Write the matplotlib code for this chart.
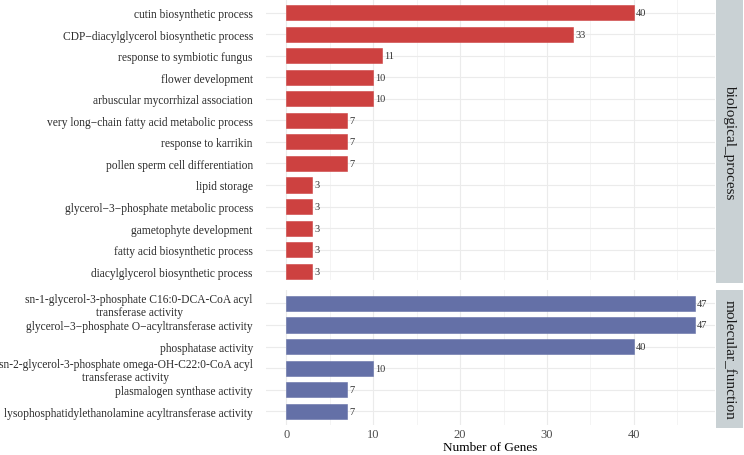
import matplotlib.pyplot as plt

plt.rcParams['font.family'] = ['Liberation Serif', 'DejaVu Serif']

bp_terms = [
    "cutin biosynthetic process",
    "CDP\u2212diacylglycerol biosynthetic process",
    "response to symbiotic fungus",
    "flower development",
    "arbuscular mycorrhizal association",
    "very long\u2212chain fatty acid metabolic process",
    "response to karrikin",
    "pollen sperm cell differentiation",
    "lipid storage",
    "glycerol\u22123\u2212phosphate metabolic process",
    "gametophyte development",
    "fatty acid biosynthetic process",
    "diacylglycerol biosynthetic process",
]
bp_counts = [40, 33, 11, 10, 10, 7, 7, 7, 3, 3, 3, 3, 3]

mf_terms = [
    "sn-1-glycerol-3-phosphate C16:0-DCA-CoA acyl\ntransferase activity",
    "glycerol\u22123\u2212phosphate O\u2212acyltransferase activity",
    "phosphatase activity",
    "sn-2-glycerol-3-phosphate omega-OH-C22:0-CoA acyl\ntransferase activity",
    "plasmalogen synthase activity",
    "lysophosphatidylethanolamine acyltransferase activity",
]
mf_counts = [47, 47, 40, 10, 7, 7]

facets = ["biological_process", "molecular_function"]
colors = ["#CD4140", "#6470A7"]

W, H = 744, 456
fig = plt.figure(figsize=(W / 100, H / 100), dpi=100)

x0, x1 = 266, 715
strip_x0, strip_x1 = 716, 743
# (top px, bottom px, ylim bottom, ylim top)
panels = [
    (0, 281, 12.41, -0.63),
    (291, 426, 5.63, -0.62),
]
xmax = max(bp_counts + mf_counts) * 1.05
xmin = -max(bp_counts + mf_counts) * 0.05

data = [(bp_terms, bp_counts), (mf_terms, mf_counts)]
for k, ((terms, counts), (pt, pb, yb, yt)) in enumerate(zip(data, panels)):
    ax = fig.add_axes([x0 / W, 1 - pb / H, (x1 - x0) / W, (pb - pt) / H])
    ypos = list(range(len(terms)))
    ax.barh(ypos, counts, height=0.7, color=colors[k], edgecolor=colors[k],
            linewidth=0.4, zorder=3)
    for y, c in zip(ypos, counts):
        ax.text(c + 0.25, y, str(c), va='center', ha='left', fontsize=7.5,
                color='#333333', zorder=4)
    ax.set_xlim(xmin, xmax)
    ax.set_ylim(yb, yt)
    ax.set_yticks(ypos)
    ax.set_yticklabels(terms, fontsize=8.3, color='#2B2B2B')
    for lab in ax.get_yticklabels():
        lab.set_multialignment('center')
        lab.set_linespacing(1.15)
    ax.set_xticks([0, 10, 20, 30, 40])
    ax.set_xticks([5, 15, 25, 35, 45], minor=True)
    ax.grid(True, which='major', color='#EBEBEB', linewidth=0.8, zorder=0)
    ax.grid(True, which='minor', axis='x', color='#F2F2F2', linewidth=0.6, zorder=0)
    ax.tick_params(axis='both', which='both', length=0)
    ax.tick_params(axis='y', pad=9.5)
    for s in ax.spines.values():
        s.set_visible(False)
    if k == 0:
        ax.set_xticklabels([])
    else:
        ax.tick_params(axis='x', labelsize=9, labelcolor='#4D4D4D', pad=2)
        ax.set_xlabel("Number of Genes", fontsize=9.5, color='black', labelpad=1)

    sax = fig.add_axes([strip_x0 / W, 1 - (pb + 3) / H, (strip_x1 - strip_x0) / W, (pb + 3 - pt) / H])
    sax.set_facecolor('#C9D1D4')
    sax.set_xticks([])
    sax.set_yticks([])
    for s in sax.spines.values():
        s.set_visible(False)
    sax.text(0.5, 0.5, facets[k], rotation=-90, ha='center', va='center',
             fontsize=11, color='#1A1A1A', transform=sax.transAxes)

fig.savefig("out.png", dpi=100)
